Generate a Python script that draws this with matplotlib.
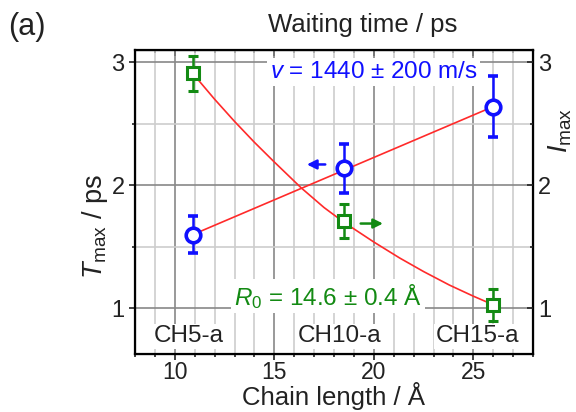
import matplotlib
matplotlib.use("Agg")
import matplotlib.pyplot as plt
from matplotlib.ticker import MultipleLocator, NullFormatter

# --- data ---
chain_len = [10.9, 18.5, 26.0]
t_max = [1.60, 2.14, 2.64]
t_err = [0.15, 0.20, 0.25]
i_max = [2.91, 1.71, 1.03]
i_err = [0.14, 0.14, 0.13]
samples = ["CH5-a", "CH10-a", "CH15-a"]
sample_x = [10.7, 18.3, 25.2]

# linear fit of T_max and decaying fit of I_max (traced)
fit_t_x = [10.9, 26.0]
fit_t_y = [1.60, 2.64]
fit_i_x = [10.9, 12.0, 13.0, 14.0, 15.0, 16.35, 17.5, 18.5, 20.0, 21.3, 22.5, 23.8, 25.0, 26.0]
fit_i_y = [2.91, 2.70, 2.52, 2.35, 2.19, 1.98, 1.82, 1.70, 1.54, 1.41, 1.30, 1.19, 1.10, 1.03]

plt.rcParams["font.family"] = ["Liberation Sans", "DejaVu Sans"]
plt.rcParams["mathtext.fontset"] = "custom"
plt.rcParams["mathtext.rm"] = "Liberation Sans"
plt.rcParams["mathtext.it"] = "Liberation Sans:italic"

blue = "#1010ff"
green = "#138a13"
red = "#ff2a2a"
ink = "#222222"

W, H = 576, 412
fig = plt.figure(figsize=(5.76, 4.12), dpi=100)
ax = fig.add_axes([135 / W, 1 - 354 / H, 398 / W, 304 / H])
ax.set_xlim(8, 28)
ax.set_ylim(0.63, 3.1)

ax.xaxis.set_major_locator(MultipleLocator(5))
ax.xaxis.set_minor_locator(MultipleLocator(1))
ax.yaxis.set_major_locator(MultipleLocator(1))
ax.yaxis.set_minor_locator(MultipleLocator(0.5))
ax.grid(which="minor", color="#cdcdcd", lw=1.2, zorder=0)
ax.grid(which="major", color="#888888", lw=1.2, zorder=0)
ax.set_axisbelow(True)

for s in ax.spines.values():
    s.set_linewidth(1.6)
ax.tick_params(which="both", direction="out", labelsize=17, width=1.2, colors=ink)
ax.tick_params(which="major", length=4)
ax.tick_params(which="minor", length=2.5)
ax.tick_params(axis="x", pad=1, labelsize=16.5)

# fits
ax.plot(fit_t_x, fit_t_y, color=red, lw=1.2, zorder=3)
ax.plot(fit_i_x, fit_i_y, color=red, lw=1.2, zorder=3)

# T_max (left axis)
ax.errorbar(chain_len, t_max, yerr=t_err, fmt="o", ms=10.5, mfc="white", mec=blue,
            mew=2.6, color=blue, elinewidth=1.8, capsize=3.8, capthick=1.8, zorder=5)

# right axis I_max
ax2 = ax.twinx()
ax2.set_ylim(ax.get_ylim())
ax2.yaxis.set_major_locator(MultipleLocator(1))
ax2.yaxis.set_minor_locator(MultipleLocator(0.5))
ax2.tick_params(which="both", direction="in", labelsize=17, width=1.2, colors=ink)
ax2.tick_params(which="major", length=4)
ax2.tick_params(which="minor", length=2.5)
ax2.errorbar(chain_len, i_max, yerr=i_err, fmt="s", ms=8, mfc="white", mec=green,
             mew=2.2, color=green, elinewidth=1.8, capsize=3.8, capthick=1.8, zorder=5)

# top axis (ticks only)
top = ax.secondary_xaxis("top")
top.xaxis.set_major_locator(MultipleLocator(5))
top.xaxis.set_minor_locator(MultipleLocator(1))
top.xaxis.set_major_formatter(NullFormatter())
top.tick_params(which="both", direction="in", width=1.2)
top.tick_params(which="major", length=4)
top.tick_params(which="minor", length=2.5)

# arrows
ax.annotate("", xy=(16.5, 2.17), xytext=(17.7, 2.17),
            arrowprops=dict(arrowstyle="-|>", color=blue, lw=1.8, mutation_scale=14), zorder=4)
ax.annotate("", xy=(20.6, 1.69), xytext=(19.2, 1.69),
            arrowprops=dict(arrowstyle="-|>", color=green, lw=1.8, mutation_scale=14), zorder=4)

box = dict(facecolor="white", edgecolor="none", pad=2)
ax.text(20.0, 2.92, "$v$ = 1440 ± 200 m/s", color=blue, fontsize=17.5,
        ha="center", va="center", bbox=box, zorder=2)
ax.text(17.7, 1.10, "$R_0$ = 14.6 ± 0.4 Å", color=green, fontsize=17.5,
        ha="center", va="center", bbox=box, zorder=2)
for lab, xs in zip(samples, sample_x):
    ax.text(xs, 0.775, lab, color=ink, fontsize=17.5, ha="center", va="center",
            bbox=dict(facecolor="white", edgecolor="none", pad=1), zorder=2)

# axis titles placed where the reference has them
fig.text(333 / W, 1 - 405 / H, "Chain length / Å", fontsize=18.5,
         ha="center", va="baseline", color=ink)
fig.text(95 / W, 1 - 226 / H, "$T_{\\mathrm{max}}$ / ps", fontsize=19.5, rotation=90,
         ha="center", va="center", color=ink)
fig.text(560 / W, 1 - 130 / H, "$I_{\\mathrm{max}}$", fontsize=19.5, rotation=90,
         ha="center", va="center", color=ink)
fig.text(363 / W, 1 - 32 / H, "Waiting time / ps", fontsize=18.5,
         ha="center", va="baseline", color=ink)
fig.text(8 / W, 1 - 27 / H, "(a)", fontsize=22, ha="left", va="center", color=ink)

fig.savefig("out.png", dpi=100)
